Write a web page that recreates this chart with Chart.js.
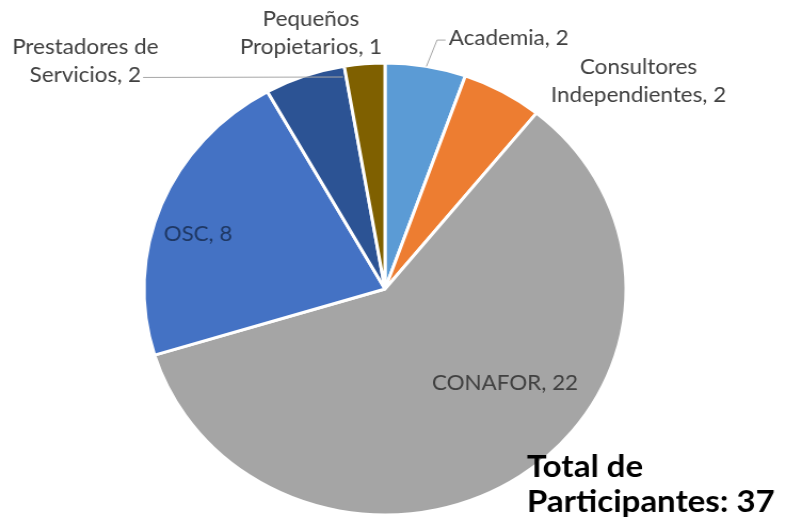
<!DOCTYPE html>
<html>
<head>
<meta charset="utf-8">
<script src="https://cdn.jsdelivr.net/npm/chart.js@4"></script>
<style>
  html, body { margin: 0; padding: 0; background: #fff; overflow: hidden; }
  #wrap { width: 737px; height: 524px; transform: scaleX(1.0665); transform-origin: 0 0; }
</style>
</head>
<body>
<div id="wrap"><canvas id="pieChart" width="737" height="524"></canvas></div>
<script>
// data
const categories = ['Academia', 'Consultores Independientes', 'CONAFOR', 'OSC', 'Prestadores de Servicios', 'Pequeños Propietarios'];
const participants = [2, 2, 22, 8, 2, 1];
const sliceColors = ['#5B9BD5', '#ED7D31', '#A5A5A5', '#4472C4', '#2C5394', '#7F6000'];
const totalLines = ['Total de', 'Participantes: 37'];

// where each data label sits: angle (deg, clockwise from top) and distance in radii
const labelPlacement = [
    { angle: 24.8, dist: 1.223, wrap: 0, color: '#404040', leader: { angle: 9.9, dist: 1.0, side: 'left' } },
    { angle: 48.8, dist: 1.398, wrap: 1, color: '#404040' },
    { angle: 129.9, dist: 0.649, wrap: 0, color: '#404040' },
    { angle: 287.4, dist: 0.813, wrap: 0, color: '#1F3864' },
    { angle: 309, dist: 1.60, wrap: 2, color: '#404040', leader: { angle: 349.5, dist: 0.954, side: 'right' } },
    { angle: 344.8, dist: 1.172, wrap: 1, color: '#404040' },
];

const polar = (cx, cy, r, deg) => {
    const a = (deg - 90) * Math.PI / 180;
    return { x: cx + r * Math.cos(a), y: cy + r * Math.sin(a) };
};

const labelsPlugin = {
    id: 'pieLabels',
    afterDatasetsDraw(chart) {
        const ctx = chart.ctx;
        const arc = chart.getDatasetMeta(0).data[0];
        const { x: cx, y: cy, outerRadius: R } = arc.getProps(['x', 'y', 'outerRadius'], true);
        const lineH = 28;
        ctx.save();
        ctx.font = '21px Lato';
        ctx.textAlign = 'center';
        ctx.textBaseline = 'middle';
        categories.forEach((cat, i) => {
            const p = labelPlacement[i];
            const words = (cat + ', ' + participants[i]).split(' ');
            const lines = p.wrap ? [words.slice(0, p.wrap).join(' '), words.slice(p.wrap).join(' ')] : [words.join(' ')];
            const pos = polar(cx, cy, R * p.dist, p.angle);
            const y0 = pos.y - (lines.length - 1) * lineH / 2;
            ctx.fillStyle = p.color;
            lines.forEach((ln, k) => ctx.fillText(ln, pos.x, y0 + k * lineH));
            if (p.leader) {
                const last = lines[lines.length - 1];
                const w = ctx.measureText(last).width;
                const ly = y0 + (lines.length - 1) * lineH + 2;
                const end = polar(cx, cy, R * p.leader.dist, p.leader.angle);
                ctx.strokeStyle = '#A6A6A6';
                ctx.lineWidth = 1;
                ctx.beginPath();
                if (p.leader.side === 'left') {
                    const sx = pos.x - w / 2 - 3;
                    ctx.moveTo(sx, ly);
                    ctx.lineTo(sx - 8, ly);
                    ctx.lineTo(end.x, end.y);
                } else {
                    ctx.moveTo(pos.x + w / 2 + 2, ly);
                    ctx.lineTo(end.x, end.y);
                }
                ctx.stroke();
            }
        });
        // total box
        ctx.font = 'bold 31px Lato';
        ctx.textAlign = 'left';
        ctx.textBaseline = 'alphabetic';
        ctx.fillStyle = '#000';
        ctx.fillText(totalLines[0], 494, 477);
        ctx.fillText(totalLines[1], 494, 512);
        ctx.restore();
    }
};

new Chart(document.getElementById('pieChart'), {
    type: 'pie',
    data: {
        labels: categories,
        datasets: [{
            data: participants,
            backgroundColor: sliceColors,
            borderColor: '#ffffff',
            borderWidth: 3
        }]
    },
    options: {
        responsive: false,
        animation: false,
        layout: { padding: { left: 133.5, right: 148.5, top: 61.5, bottom: 7.5 } },
        plugins: {
            legend: { display: false },
            tooltip: { enabled: false }
        }
    },
    plugins: [labelsPlugin]
});
</script>
</body>
</html>
